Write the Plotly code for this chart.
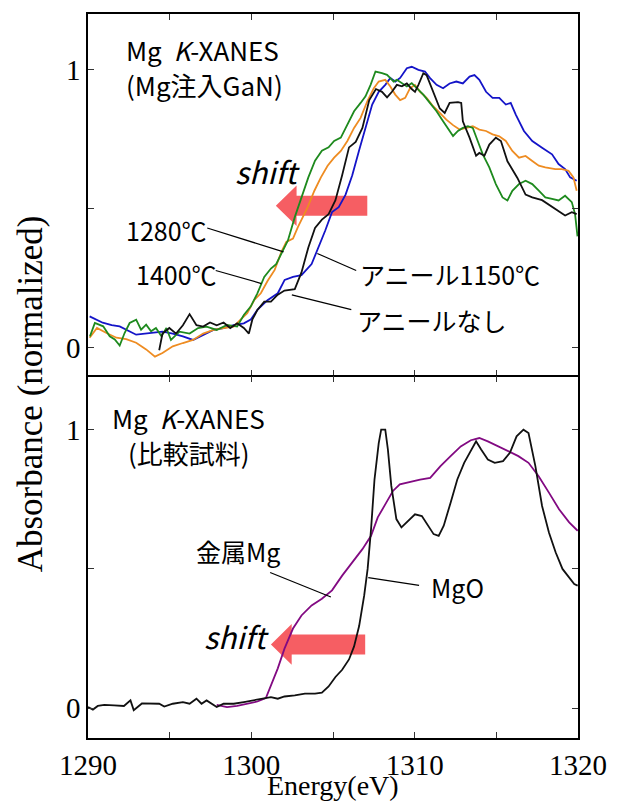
import plotly.graph_objects as go
from plotly.subplots import make_subplots

# ---------------- data (energy eV, normalized absorbance) ----------------
x_tickvals = [1290, 1295, 1300, 1305, 1310, 1315, 1320]
x_ticktext = ["1290", "", "1300", "", "1310", "", "1320"]
y_tickvals = [0, 0.5, 1]
y_ticktext = ["0", "", "1"]

# top panel: Mg-implanted GaN
gan_no_anneal = [(1294.36,-0.01),(1294.56,0.05),(1294.98,0.07),(1295.39,0.05),(1295.81,0.08),(1296.22,0.12),(1296.64,0.08),(1297.05,0.075),(1297.47,0.09),(1297.88,0.08),(1298.3,0.09),(1298.71,0.07),(1299.13,0.087),(1299.54,0.07),(1299.85,0.05),(1300.06,0.10),(1300.37,0.135),(1300.79,0.165),(1301.2,0.165),(1301.62,0.19),(1302.03,0.205),(1302.66,0.21),(1303.07,0.27),(1303.49,0.36),(1303.9,0.43),(1304.32,0.46),(1304.73,0.48),(1305.15,0.53),(1305.56,0.62),(1305.98,0.72),(1306.39,0.74),(1306.8,0.79),(1307.22,0.89),(1307.63,0.93),(1308.0,0.92),(1308.31,0.90),(1308.61,0.92),(1308.91,0.945),(1309.22,0.94),(1309.52,0.95),(1309.82,0.93),(1310.02,0.92),(1310.23,0.945),(1310.53,0.987),(1310.73,0.98),(1311.13,0.92),(1311.54,0.86),(1311.84,0.844),(1312.14,0.88),(1312.65,0.883),(1312.85,0.88),(1312.95,0.814),(1313.36,0.755),(1313.76,0.69),(1313.96,0.70),(1314.27,0.69),(1314.57,0.73),(1314.97,0.755),(1315.28,0.743),(1315.68,0.67),(1316.29,0.61),(1316.79,0.55),(1317.2,0.54),(1317.8,0.53),(1318.41,0.505),(1318.81,0.49),(1319.21,0.475),(1319.62,0.487),(1319.92,0.48)]

gan_1150 = [(1290.1,0.112),(1290.9,0.089),(1291.45,0.08),(1291.94,0.076),(1292.95,0.046),(1293.96,0.052),(1294.56,0.057),(1295.19,0.05),(1295.81,0.04),(1296.43,0.027),(1297.05,0.045),(1297.68,0.063),(1298.3,0.07),(1298.92,0.08),(1299.54,0.087),(1299.96,0.1),(1300.37,0.135),(1300.99,0.17),(1301.62,0.195),(1302.04,0.243),(1302.55,0.254),(1303.07,0.26),(1303.69,0.30),(1304.11,0.36),(1304.52,0.42),(1304.94,0.487),(1305.35,0.505),(1305.77,0.55),(1306.18,0.62),(1306.6,0.71),(1307.01,0.79),(1307.4,0.874),(1307.8,0.92),(1308.2,0.945),(1308.51,0.97),(1308.81,0.957),(1309.11,0.97),(1309.52,1.005),(1309.82,1.01),(1310.23,0.999),(1310.63,0.993),(1310.93,0.97),(1311.34,0.945),(1311.74,0.933),(1312.14,0.95),(1312.55,0.957),(1312.95,0.95),(1313.36,0.975),(1313.66,0.98),(1313.96,0.963),(1314.37,0.92),(1314.77,0.898),(1315.18,0.898),(1315.58,0.874),(1315.88,0.88),(1316.19,0.838),(1316.69,0.779),(1317.2,0.743),(1317.8,0.719),(1318.41,0.695),(1318.81,0.66),(1319.21,0.642),(1319.52,0.612),(1319.92,0.60)]

gan_1280 = [(1290.1,0.035),(1290.55,0.07),(1291.13,0.052),(1291.74,0.035),(1292.34,0.03),(1292.95,0.017),(1293.56,-0.007),(1294.1,-0.033),(1294.56,-0.02),(1295.19,0.004),(1295.81,0.016),(1296.43,0.027),(1297.05,0.05),(1297.68,0.063),(1298.3,0.07),(1298.92,0.075),(1299.34,0.1),(1299.75,0.123),(1300.17,0.17),(1300.58,0.195),(1301.0,0.24),(1301.43,0.279),(1301.84,0.344),(1302.14,0.38),(1302.55,0.392),(1302.85,0.433),(1303.45,0.505),(1303.86,0.564),(1304.26,0.612),(1304.67,0.654),(1305.07,0.683),(1305.48,0.707),(1305.88,0.743),(1306.29,0.79),(1306.69,0.826),(1307.1,0.886),(1307.5,0.933),(1307.8,0.957),(1308.2,0.963),(1308.51,0.939),(1308.81,0.91),(1309.11,0.89),(1309.42,0.898),(1309.72,0.933),(1310.02,0.945),(1310.33,0.92),(1310.73,0.898),(1311.13,0.868),(1311.54,0.844),(1311.94,0.82),(1312.35,0.80),(1312.75,0.784),(1313.15,0.79),(1313.56,0.796),(1313.96,0.784),(1314.37,0.779),(1314.77,0.767),(1315.18,0.76),(1315.58,0.743),(1315.98,0.707),(1316.39,0.683),(1316.79,0.689),(1317.2,0.671),(1317.6,0.654),(1318.0,0.648),(1318.61,0.642),(1319.01,0.642),(1319.42,0.636),(1319.72,0.612),(1319.92,0.564)]

gan_1400 = [(1290.12,0.04),(1290.42,0.088),(1290.93,0.076),(1291.33,0.04),(1291.64,0.029),(1291.94,0.007),(1292.24,0.052),(1292.55,0.088),(1292.95,0.1),(1293.25,0.064),(1293.56,0.082),(1293.86,0.058),(1294.16,0.07),(1294.5,0.04),(1294.8,0.07),(1295.08,0.027),(1295.6,0.057),(1296.22,0.05),(1296.74,0.07),(1297.26,0.075),(1297.88,0.063),(1298.51,0.081),(1299.13,0.075),(1299.54,0.117),(1299.96,0.147),(1300.37,0.195),(1300.79,0.254),(1301.2,0.284),(1301.52,0.30),(1301.83,0.338),(1302.24,0.385),(1302.66,0.469),(1303.07,0.54),(1303.49,0.612),(1303.9,0.672),(1304.32,0.708),(1304.73,0.72),(1305.07,0.743),(1305.48,0.755),(1305.88,0.802),(1306.29,0.85),(1306.69,0.88),(1306.99,0.904),(1307.3,0.945),(1307.6,0.993),(1308.0,0.987),(1308.31,0.981),(1308.51,0.969),(1308.71,0.957),(1308.91,0.963),(1309.22,0.951),(1309.52,0.939),(1309.82,0.951),(1310.12,0.933),(1310.53,0.91),(1310.93,0.88),(1311.34,0.85),(1311.74,0.814),(1312.14,0.779),(1312.35,0.761),(1312.65,0.779),(1312.95,0.79),(1313.26,0.796),(1313.56,0.79),(1313.86,0.743),(1314.17,0.695),(1314.57,0.648),(1314.97,0.588),(1315.38,0.54),(1315.68,0.529),(1315.98,0.564),(1316.39,0.588),(1316.79,0.6),(1317.2,0.588),(1317.6,0.564),(1318.0,0.54),(1318.41,0.535),(1318.81,0.529),(1319.21,0.546),(1319.62,0.523),(1319.82,0.48),(1319.97,0.40)]

# bottom panel: reference samples
ref_MgO = [(1290.0,0.004),(1290.3,-0.005),(1290.6,0.008),(1291.0,0.012),(1291.6,0.01),(1292.2,0.008),(1292.6,0.028),(1292.8,-0.007),(1293.3,0.017),(1293.73,0.016),(1294.36,0.016),(1294.67,0.006),(1295.19,0.016),(1295.81,0.022),(1296.22,0.016),(1296.64,0.034),(1296.95,0.016),(1297.26,0.028),(1297.57,0.016),(1297.88,0.004),(1298.3,0.016),(1298.92,0.016),(1299.54,0.022),(1300.17,0.028),(1300.79,0.034),(1301.2,0.04),(1301.62,0.034),(1302.03,0.042),(1302.66,0.046),(1303.28,0.052),(1303.9,0.052),(1304.32,0.056),(1304.73,0.078),(1305.15,0.112),(1305.56,0.138),(1305.98,0.175),(1306.29,0.222),(1306.6,0.295),(1306.91,0.405),(1307.12,0.50),(1307.33,0.643),(1307.54,0.821),(1307.8,0.952),(1307.95,1.0),(1308.2,1.0),(1308.36,0.929),(1308.57,0.798),(1308.88,0.679),(1309.19,0.649),(1309.61,0.673),(1310.02,0.696),(1310.44,0.69),(1310.75,0.661),(1311.16,0.625),(1311.47,0.619),(1311.78,0.655),(1312.2,0.738),(1312.61,0.821),(1313.03,0.881),(1313.44,0.923),(1313.76,0.958),(1314.07,0.929),(1314.48,0.893),(1314.9,0.881),(1315.41,0.887),(1315.83,0.917),(1316.24,0.976),(1316.66,1.0),(1316.97,0.988),(1317.39,0.869),(1317.8,0.726),(1318.22,0.631),(1318.63,0.56),(1319.05,0.5),(1319.36,0.476),(1319.77,0.446),(1319.98,0.44)]

ref_Mg_metal = [(1297.88,0.012),(1298.51,0.004),(1299.13,0.008),(1299.75,0.016),(1300.37,0.024),(1300.89,0.036),(1301.2,0.08),(1301.62,0.143),(1302.03,0.214),(1302.55,0.286),(1303.07,0.333),(1303.69,0.369),(1304.32,0.393),(1304.94,0.423),(1305.56,0.476),(1306.18,0.524),(1306.8,0.571),(1307.33,0.619),(1307.74,0.685),(1308.26,0.738),(1308.67,0.78),(1309.09,0.804),(1309.71,0.813),(1310.33,0.821),(1310.95,0.827),(1311.58,0.869),(1312.2,0.905),(1312.82,0.94),(1313.44,0.962),(1313.96,0.97),(1314.48,0.958),(1315.1,0.94),(1315.73,0.923),(1316.35,0.905),(1316.97,0.881),(1317.59,0.833),(1318.22,0.774),(1318.84,0.714),(1319.46,0.667),(1319.98,0.637)]

# ---------------- figure ----------------
# the page body has an 8 px margin, so the figure is drawn 16 px smaller than the window
W, H = 603, 796
SERIF = "Liberation Serif"
SANS = "Noto Sans CJK JP"
LBL = 25
LW = 1.5
PLOT_H = 726

fig = make_subplots(rows=2, cols=1, shared_xaxes=True, vertical_spacing=LW / PLOT_H)


def add_line(series, color, row):
    fig.add_trace(go.Scatter(x=[p[0] for p in series], y=[p[1] for p in series],
                             mode="lines", line=dict(color=color, width=1.8),
                             showlegend=False, hoverinfo="skip"), row=row, col=1)


add_line(gan_1150, "#1414C8", 1)
add_line(gan_1280, "#EE8C22", 1)
add_line(gan_1400, "#1E8A1E", 1)
add_line(gan_no_anneal, "#111111", 1)
add_line(ref_Mg_metal, "#820A82", 2)
add_line(ref_MgO, "#111111", 2)

axis_common = dict(showline=True, linecolor="black", linewidth=LW, mirror="ticks",
                   ticks="inside", ticklen=6, tickwidth=1.3, tickcolor="#333",
                   showgrid=False, zeroline=False,
                   tickfont=dict(family=SERIF, size=29, color="black"))

fig.update_xaxes(range=[1290, 1320], tickvals=x_tickvals, ticktext=x_ticktext,
                 ticklabeloverflow="allow", **axis_common)
fig.update_xaxes(showticklabels=False, row=1, col=1)
fig.update_yaxes(tickvals=y_tickvals, ticktext=y_ticktext, **axis_common)
fig.update_yaxes(range=[-0.1, 1.2], row=1, col=1)
fig.update_yaxes(range=[-0.107, 1.19], row=2, col=1)


def arrow(xref, yref, tip, tail, yc, color="#F5555B"):
    body, head, hl = 0.036, 0.073, 1.27
    hb = tip + hl
    path = (f"M {tail},{yc+body} L {hb},{yc+body} L {hb},{yc+head} L {tip},{yc} "
            f"L {hb},{yc-head} L {hb},{yc-body} L {tail},{yc-body} Z")
    fig.add_shape(type="path", path=path, xref=xref, yref=yref,
                  fillcolor=color, line=dict(width=0), layer="below", opacity=0.95)


arrow("x", "y", 1301.5, 1307.1, 0.51)
arrow("x2", "y2", 1301.2, 1306.97, 0.229)


def leader(xref, yref, x0, y0, x1, y1):
    fig.add_shape(type="line", xref=xref, yref=yref, x0=x0, y0=y0, x1=x1, y1=y1,
                  line=dict(color="black", width=1.2))


leader("x", "y", 1297.3, 0.43, 1301.97, 0.344)
leader("x", "y", 1297.82, 0.277, 1300.62, 0.23)
leader("x", "y", 1306.42, 0.277, 1304.04, 0.338)
leader("x", "y", 1306.12, 0.136, 1302.48, 0.189)
leader("x2", "y2", 1301.15, 0.487, 1304.87, 0.399)
leader("x2", "y2", 1310.27, 0.441, 1307.16, 0.469)


def label(text, x, y, xref="x", yref="y", xanchor="left", size=LBL):
    fig.add_annotation(text=text, x=x, y=y, xref=xref, yref=yref, xanchor=xanchor,
                       yanchor="middle", showarrow=False,
                       font=dict(family=SANS, size=size, color="black"))


label("Mg&nbsp; <i>K</i>-XANES", 1292.2, 1.071, size=26)
label("(Mg注入GaN)", 1292.2, 0.946, size=26)
label("<i>shift</i>", 1298.85, 0.636, size=30)
label("1280℃", 1292.21, 0.423)
label("1400℃", 1292.84, 0.264)
label("アニール1150℃", 1306.53, 0.264)
label("アニールなし", 1306.33, 0.10)

label("Mg&nbsp; <i>K</i>-XANES", 1296.18, 1.043, "x2", "y2", "center", size=26)
label("(比較試料)", 1296.18, 0.918, "x2", "y2", "center", size=26)
label("<i>shift</i>", 1296.97, 0.26, "x2", "y2", size=30)
label("金属Mg", 1296.48, 0.566, "x2", "y2")
label("MgO", 1310.9, 0.434, "x2", "y2")

fig.add_annotation(text="Absorbance (normalized)", x=-0.118, y=0.475, xref="paper", yref="paper",
                   textangle=-90, showarrow=False, xanchor="center", yanchor="middle",
                   font=dict(family=SERIF, size=35, color="black"))
fig.add_annotation(text="Energy(eV)", x=0.5, y=-0.066, xref="paper", yref="paper",
                   showarrow=False, xanchor="center", yanchor="middle",
                   font=dict(family=SERIF, size=28, color="black"))

fig.update_layout(width=W, height=H, margin=dict(l=80, r=28, t=4, b=66),
                  paper_bgcolor="white", plot_bgcolor="white", showlegend=False)

fig.write_html("out.html")
